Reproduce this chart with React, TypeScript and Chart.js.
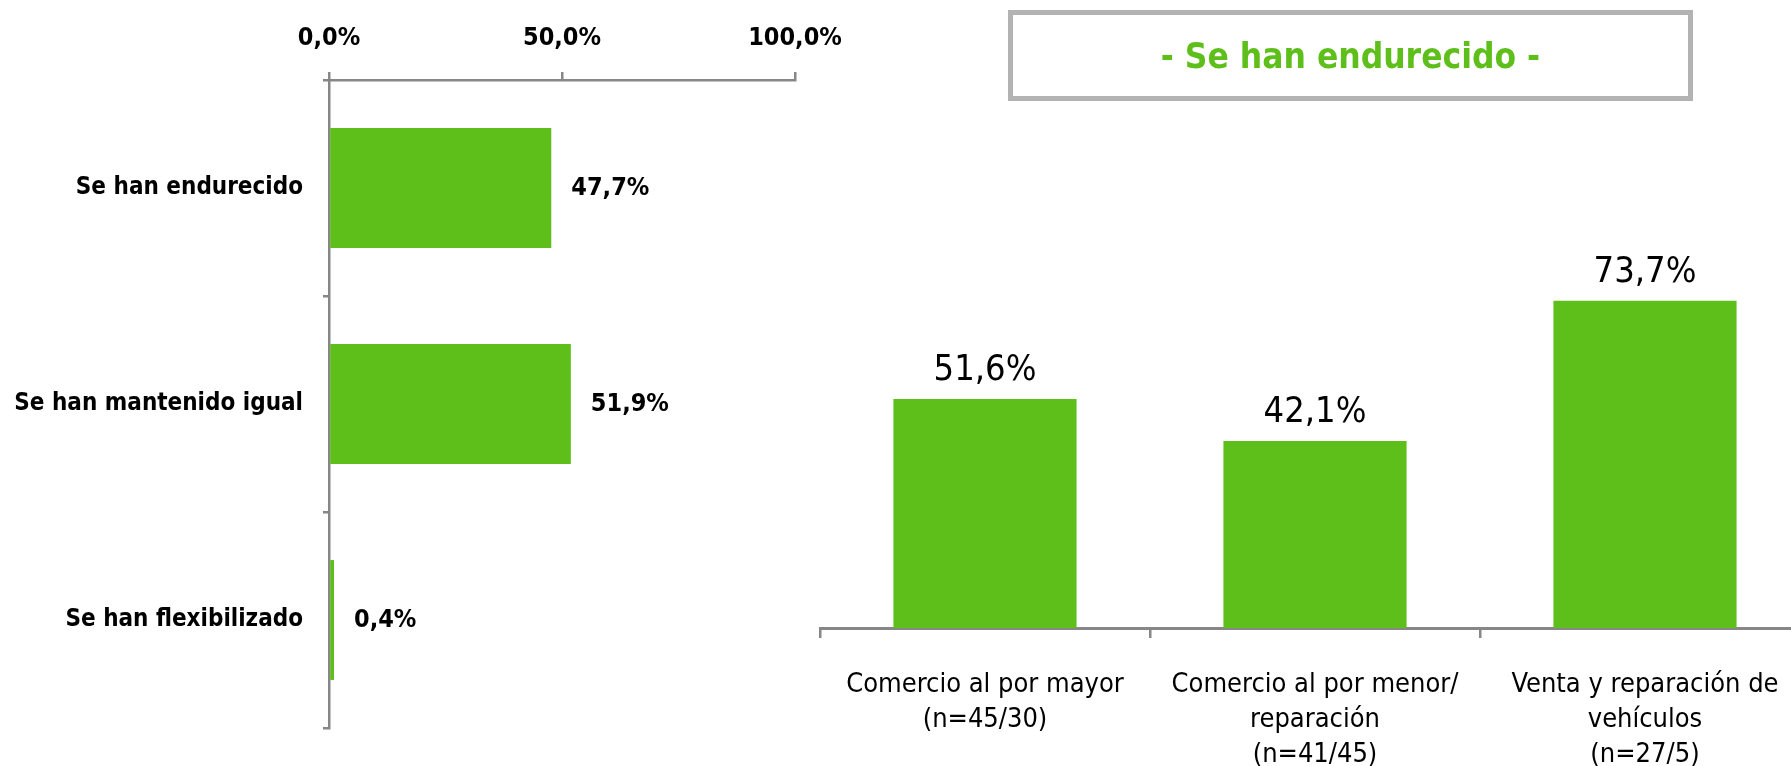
import React, { useEffect, useRef } from 'react';
import { Chart, registerables } from 'chart.js';

Chart.register(...registerables);

// ---- data ----
const leftCategories = ['Se han endurecido', 'Se han mantenido igual', 'Se han flexibilizado'];
const leftValues = [47.7, 51.9, 0.4];
const leftTicks = [0, 50, 100];

const rightCategories = [
  ['Comercio al por mayor', '(n=45/30)'],
  ['Comercio al por menor/', 'reparación', '(n=41/45)'],
  ['Venta y reparación de', 'vehículos', '(n=27/5)'],
];
const rightValues = [51.6, 42.1, 73.7];
const rightTitle = '- Se han endurecido -';

// ---- styles ----
const GREEN = '#5ebf1b';
const AXIS = '#878787';
const FONT = "'DejaVu Sans Condensed', 'Liberation Sans Narrow', sans-serif";

const fmt = (v: number) => v.toFixed(1).replace('.', ',') + '%';

const valueLabels = (opts: { font: string; offset: number; horizontal: boolean }) => ({
  id: 'valueLabels',
  afterDatasetsDraw(chart: any) {
    const ctx = chart.ctx;
    const meta = chart.getDatasetMeta(0);
    const data = chart.data.datasets[0].data as number[];
    ctx.save();
    ctx.font = opts.font;
    ctx.fillStyle = '#000';
    meta.data.forEach((bar: any, i: number) => {
      if (opts.horizontal) {
        ctx.textAlign = 'left';
        ctx.textBaseline = 'middle';
        ctx.fillText(fmt(data[i]), bar.x + opts.offset, bar.y);
      } else {
        ctx.textAlign = 'center';
        ctx.textBaseline = 'middle';
        ctx.fillText(fmt(data[i]), bar.x, bar.y - opts.offset);
      }
    });
    ctx.restore();
  },
});

export default function App() {
  const leftRef = useRef<HTMLCanvasElement>(null);
  const rightRef = useRef<HTMLCanvasElement>(null);

  useEffect(() => {
    const left = new Chart(leftRef.current!, {
      type: 'bar',
      data: {
        labels: leftCategories,
        datasets: [
          {
            data: leftValues,
            backgroundColor: GREEN,
            categoryPercentage: 0.555,
            barPercentage: 1,
            minBarLength: 5,
          },
        ],
      },
      options: {
        indexAxis: 'y',
        responsive: false,
        animation: false,
        layout: { padding: { left: 0, right: 105, top: 0, bottom: 38 } },
        plugins: { legend: { display: false }, tooltip: { enabled: false } },
        scales: {
          x: {
            position: 'top',
            min: 0,
            max: 100,
            afterBuildTicks: (s: any) => {
              s.ticks = leftTicks.map((v) => ({ value: v }));
            },
            afterFit: (s: any) => {
              s.height = 80;
              s.paddingLeft = 0;
              s.paddingRight = 0;
            },
            ticks: {
              callback: (v: any) => fmt(Number(v)),
              font: { family: FONT, size: 25, weight: 'bold' },
              color: '#000',
              padding: 19,
              maxRotation: 0,
            },
            grid: { drawOnChartArea: false, drawTicks: true, tickLength: 8, color: AXIS, lineWidth: 2.5 },
            border: { color: AXIS, width: 2.5 },
          },
          y: {
            afterFit: (s: any) => {
              s.width = 329;
            },
            ticks: {
              font: { family: FONT, size: 24, weight: 'bold' },
              color: '#000',
              padding: 20,
            },
            grid: { drawOnChartArea: false, drawTicks: true, tickLength: 6, color: AXIS, lineWidth: 2.5, offset: true },
            border: { color: AXIS, width: 2.5 },
          },
        },
      },
      plugins: [valueLabels({ font: `bold 25px ${FONT}`, offset: 20, horizontal: true })],
    } as any);

    const right = new Chart(rightRef.current!, {
      type: 'bar',
      data: {
        labels: rightCategories,
        datasets: [
          {
            data: rightValues,
            backgroundColor: GREEN,
            categoryPercentage: 0.555,
            barPercentage: 1,
          },
        ],
      },
      options: {
        responsive: false,
        animation: false,
        layout: { padding: { left: 40, right: 70, top: 184, bottom: 0 } },
        plugins: { legend: { display: false }, tooltip: { enabled: false } },
        scales: {
          x: {
            afterFit: (s: any) => {
              s.height = 138;
              s.paddingLeft = 0;
              s.paddingRight = 0;
            },
            ticks: {
              font: { family: FONT, size: 27, lineHeight: 1.3 },
              color: '#000',
              padding: 29,
              maxRotation: 0,
              autoSkip: false,
            },
            grid: { drawOnChartArea: false, drawTicks: true, tickLength: 10, color: AXIS, lineWidth: 2.5, offset: true },
            border: { color: AXIS, width: 3 },
          },
          y: { display: false, min: 0, max: 100 },
        },
      },
      plugins: [valueLabels({ font: `36px ${FONT}`, offset: 28, horizontal: false })],
    } as any);

    return () => {
      left.destroy();
      right.destroy();
    };
  }, []);

  return (
    <div
      style={{
        position: 'fixed',
        left: 0,
        top: 0,
        width: 1791,
        height: 766,
        overflow: 'hidden',
        background: '#fff',
      }}
    >
      <canvas
        ref={leftRef}
        width={900}
        height={766}
        style={{ position: 'absolute', left: 0, top: 0, width: 900, height: 766 }}
      />
      <canvas
        ref={rightRef}
        width={1100}
        height={766}
        style={{ position: 'absolute', left: 780, top: 0, width: 1100, height: 766 }}
      />
      <div
        style={{
          position: 'absolute',
          left: 1008,
          top: 10,
          width: 685,
          height: 91,
          boxSizing: 'border-box',
          border: '5px solid #b3b3b3',
          display: 'flex',
          alignItems: 'center',
          justifyContent: 'center',
          color: GREEN,
          fontFamily: FONT,
          fontWeight: 'bold',
          fontSize: 35,
        }}
      >
        {rightTitle}
      </div>
    </div>
  );
}
